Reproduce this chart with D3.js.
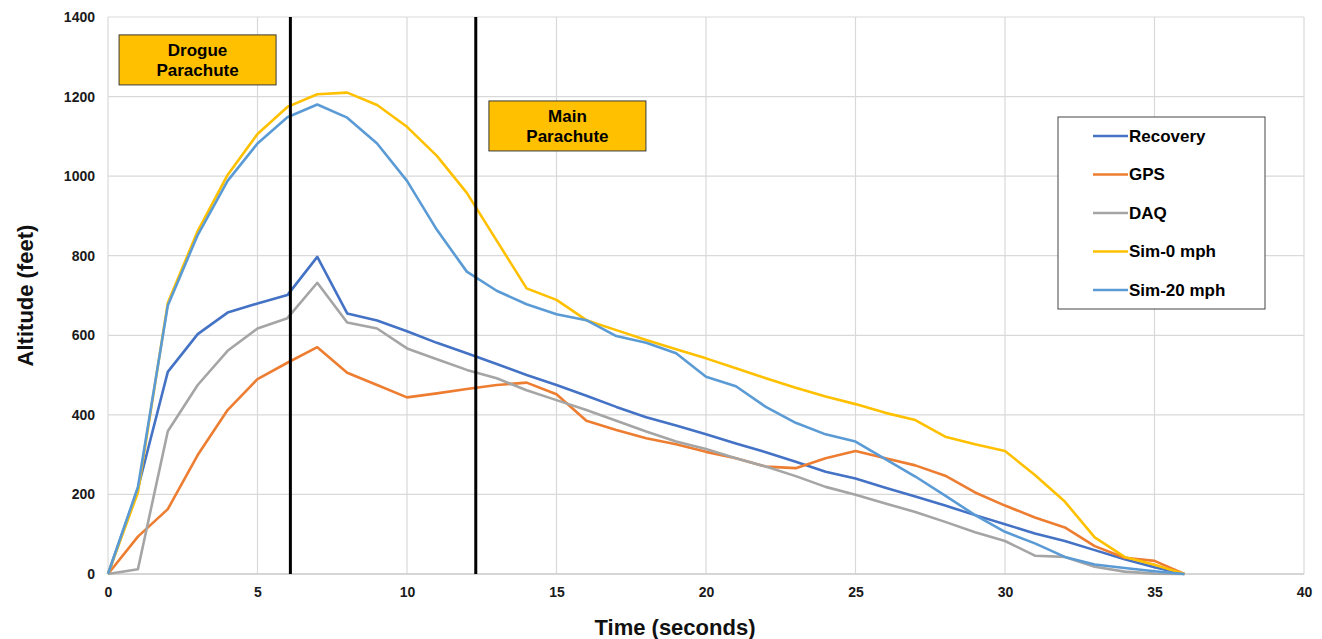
<!DOCTYPE html>
<html>
<head>
<meta charset="utf-8">
<script src="https://cdn.jsdelivr.net/npm/d3@7"></script>
<style>
  body { margin: 0; background: #fff; }
  svg { display: block; font-family: "Liberation Sans", Arial, Helvetica, sans-serif; }
</style>
</head>
<body>
<svg id="chart" width="1322" height="639"></svg>
<script>
// time in seconds, one sample per second
const time = d3.range(0, 37);

const recovery = [0, 215, 508, 603, 657, 680, 701, 797, 655, 637, 610, 581, 555, 528, 500, 475,
  448, 420, 394, 373, 351, 328, 306, 282, 257, 240, 217, 195, 172, 148, 125, 102, 83, 60, 37, 17, 0];
const gps = [0, 94, 163, 299, 412, 490, 531, 570, 506, 475, 444, 454, 465, 475, 481, 452,
  385, 362, 341, 326, 307, 291, 270, 266, 291, 309, 291, 273, 247, 205, 172, 142, 117, 70, 41, 33, 0];
const daq = [0, 12, 359, 475, 561, 617, 643, 732, 632, 617, 567, 540, 513, 492, 462, 437,
  412, 385, 358, 333, 314, 291, 270, 246, 219, 199, 177, 156, 131, 105, 83, 46, 43, 18, 6, 1, 0];
const sim0 = [0, 205, 681, 862, 1003, 1106, 1174, 1206, 1210, 1179, 1124, 1051, 958, 838, 718, 689,
  638, 613, 588, 565, 542, 517, 492, 468, 446, 427, 405, 387, 345, 326, 309, 249, 182, 92, 43, 23, 0];
const sim20 = [0, 218, 675, 852, 988, 1082, 1148, 1180, 1147, 1082, 988, 865, 760, 712, 678, 653,
  638, 598, 581, 555, 496, 472, 420, 380, 351, 333, 289, 245, 197, 148, 106, 77, 43, 24, 15, 7, 0];

const seriesNames = ['Recovery', 'GPS', 'DAQ', 'Sim-0 mph', 'Sim-20 mph'];
const seriesColors = ['#4472C4', '#ED7D31', '#A5A5A5', '#FFC000', '#5B9BD5'];
const seriesValues = [recovery, gps, daq, sim0, sim20];

const xTicks = [0, 5, 10, 15, 20, 25, 30, 35, 40];
const yTicks = [0, 200, 400, 600, 800, 1000, 1200, 1400];

// parachute deployment events
const eventTimes = [6.1, 12.3];
const eventLabels = [['Drogue', 'Parachute'], ['Main', 'Parachute']];
const eventBoxes = [{ t: 0.37, alt: 1355 }, { t: 12.74, alt: 1189 }];

const margin = { top: 17, right: 18, bottom: 65, left: 108 };
const width = 1322, height = 639;

const svg = d3.select('#chart');

const x = d3.scaleLinear()
  .domain([0, 40])
  .range([margin.left, width - margin.right]);

const y = d3.scaleLinear()
  .domain([0, 1400])
  .range([height - margin.bottom, margin.top]);

// grid
const grid = svg.append('g').attr('class', 'grid');

grid.selectAll('.hgrid')
  .data(yTicks)
  .enter()
  .append('line')
    .attr('x1', x(0))
    .attr('x2', x(40))
    .attr('y1', d => y(d))
    .attr('y2', d => y(d))
    .style('stroke', '#d9d9d9')
    .style('stroke-width', 1.2);

grid.selectAll('.vgrid')
  .data(xTicks)
  .enter()
  .append('line')
    .attr('x1', d => x(d))
    .attr('x2', d => x(d))
    .attr('y1', y(0))
    .attr('y2', y(1400))
    .style('stroke', '#d9d9d9')
    .style('stroke-width', 1.2);

// axes
const xAxis = svg.append('g')
  .attr('transform', `translate(0,${y(0)})`)
  .call(d3.axisBottom(x).tickValues(xTicks).tickSize(0).tickPadding(13).tickFormat(d3.format('d')));

const yAxis = svg.append('g')
  .attr('transform', `translate(${x(0)},0)`)
  .call(d3.axisLeft(y).tickValues(yTicks).tickSize(0).tickPadding(13).tickFormat(d3.format('d')));

[xAxis, yAxis].forEach(axis => {
  axis.select('.domain').remove();
  axis.selectAll('text')
    .style('font-size', '14px')
    .style('font-weight', 'bold')
    .style('fill', '#1a1a1a');
});

// baseline
svg.append('line')
  .attr('x1', x(0))
  .attr('x2', x(40))
  .attr('y1', y(0))
  .attr('y2', y(0))
  .style('stroke', '#cfcfcf')
  .style('stroke-width', 1.5);

// axis titles
svg.append('text')
  .attr('x', 675)
  .attr('y', 635)
  .attr('text-anchor', 'middle')
  .style('font-size', '22px')
  .style('font-weight', 'bold')
  .style('fill', '#111')
  .text('Time (seconds)');

svg.append('text')
  .attr('transform', `translate(33,${(y(0) + y(1400)) / 2}) rotate(-90)`)
  .attr('text-anchor', 'middle')
  .style('font-size', '22px')
  .style('font-weight', 'bold')
  .style('fill', '#111')
  .text('Altitude (feet)');

// series lines
const line = d3.line()
  .x((d, i) => x(time[i]))
  .y(d => y(d));

svg.append('g')
  .selectAll('.series')
  .data(seriesValues)
  .enter()
  .append('path')
    .attr('d', d => line(d))
    .style('fill', 'none')
    .style('stroke', (d, i) => seriesColors[i])
    .style('stroke-width', 2.6)
    .style('stroke-linejoin', 'round');

// event markers
svg.append('g')
  .selectAll('.event')
  .data(eventTimes)
  .enter()
  .append('line')
    .attr('x1', d => x(d))
    .attr('x2', d => x(d))
    .attr('y1', y(1400))
    .attr('y2', y(0))
    .style('stroke', '#000')
    .style('stroke-width', 3);

// event labels
const boxW = 157, boxH = 50;
const labels = svg.append('g')
  .selectAll('.event-label')
  .data(eventBoxes)
  .enter()
  .append('g')
    .attr('transform', d => `translate(${x(d.t)},${y(d.alt)})`);

labels.append('rect')
  .attr('width', boxW)
  .attr('height', boxH)
  .style('fill', '#FFC000')
  .style('stroke', '#3a3a3a')
  .style('stroke-width', 1);

labels.append('text')
  .attr('x', boxW / 2)
  .attr('text-anchor', 'middle')
  .style('font-size', '17px')
  .style('font-weight', 'bold')
  .style('fill', '#000')
  .selectAll('tspan')
  .data((d, i) => eventLabels[i])
  .enter()
  .append('tspan')
    .attr('x', boxW / 2)
    .attr('y', (d, i) => 21 + i * 20)
    .text(d => d);

// legend
const legend = svg.append('g')
  .attr('transform', 'translate(1058,117)');

legend.append('rect')
  .attr('width', 207)
  .attr('height', 192)
  .style('fill', '#fff')
  .style('stroke', '#444')
  .style('stroke-width', 1);

const items = legend.selectAll('.legend-item')
  .data(seriesNames)
  .enter()
  .append('g')
    .attr('transform', (d, i) => `translate(0,${19 + i * 38.5})`);

items.append('line')
  .attr('x1', 35)
  .attr('x2', 70)
  .style('stroke', (d, i) => seriesColors[i])
  .style('stroke-width', 2.6);

items.append('text')
  .attr('x', 71)
  .attr('dy', '0.35em')
  .style('font-size', '17px')
  .style('font-weight', 'bold')
  .style('fill', '#000')
  .text(d => d);
</script>
</body>
</html>
